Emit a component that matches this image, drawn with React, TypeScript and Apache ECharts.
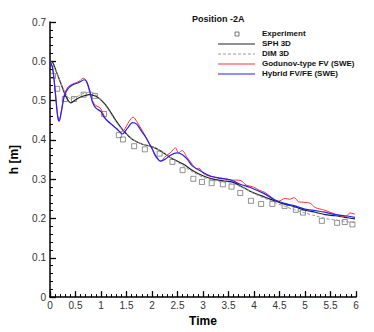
import React, { useEffect, useRef } from "react";
import * as echarts from "echarts";

const xTicks = [0, 0.5, 1, 1.5, 2, 2.5, 3, 3.5, 4, 4.5, 5, 5.5, 6];
const yTicks = [0, 0.1, 0.2, 0.3, 0.4, 0.5, 0.6, 0.7];

const experiment: [number, number][] = [
  [0.06, 0.563], [0.14, 0.53], [0.29, 0.504], [0.47, 0.504], [0.66, 0.515], [0.88, 0.512],
  [1.06, 0.466], [1.35, 0.412], [1.43, 0.401], [1.65, 0.384], [1.86, 0.376], [2.15, 0.365],
  [2.4, 0.344], [2.6, 0.323], [2.81, 0.301], [2.98, 0.293], [3.17, 0.29], [3.39, 0.287],
  [3.56, 0.281], [3.73, 0.265], [3.94, 0.245], [4.14, 0.237], [4.36, 0.237], [4.6, 0.232],
  [4.82, 0.222], [4.96, 0.215], [5.33, 0.194], [5.63, 0.189], [5.78, 0.191], [5.93, 0.185],
];

const sph3d: [number, number][] = [
  [0, 0.6], [0.05, 0.598], [0.12, 0.575], [0.21, 0.545], [0.31, 0.511], [0.41, 0.494],
  [0.51, 0.503], [0.64, 0.511], [0.77, 0.515], [0.9, 0.511], [1.03, 0.498], [1.13, 0.482],
  [1.3, 0.448], [1.45, 0.422], [1.62, 0.401], [1.81, 0.389], [1.97, 0.384], [2.17, 0.372],
  [2.36, 0.355], [2.62, 0.338], [2.81, 0.321], [3.01, 0.308], [3.2, 0.3], [3.4, 0.296],
  [3.59, 0.292], [3.79, 0.279], [3.98, 0.266], [4.12, 0.259], [4.22, 0.254], [4.41, 0.245],
  [4.61, 0.236], [4.8, 0.23], [5.0, 0.221], [5.2, 0.216], [5.39, 0.21], [5.59, 0.207],
  [5.78, 0.203], [5.98, 0.199],
];

const dim3d: [number, number][] = [
  [0, 0.6], [0.1, 0.58], [0.2, 0.55], [0.3, 0.52], [0.4, 0.505], [0.5, 0.508], [0.6, 0.515],
  [0.7, 0.52], [0.8, 0.522], [0.9, 0.515], [1.0, 0.5], [1.1, 0.485], [1.2, 0.465],
  [1.3, 0.445], [1.4, 0.428], [1.5, 0.415], [1.6, 0.403], [1.8, 0.39], [2.0, 0.383],
  [2.2, 0.37], [2.4, 0.352], [2.6, 0.335], [2.8, 0.318], [3.0, 0.305], [3.2, 0.297],
  [3.4, 0.293], [3.6, 0.288], [3.8, 0.277], [4.0, 0.263], [4.2, 0.252], [4.4, 0.241],
  [4.6, 0.231], [4.8, 0.222], [5.0, 0.214], [5.2, 0.207], [5.4, 0.2], [5.6, 0.196],
  [5.8, 0.192], [6.0, 0.189],
];

const godunov: [number, number][] = [
  [0, 0.6], [0.05, 0.585], [0.1, 0.53], [0.15, 0.462], [0.18, 0.45], [0.22, 0.472],
  [0.28, 0.515], [0.35, 0.534], [0.44, 0.542], [0.57, 0.549], [0.65, 0.557], [0.7, 0.553],
  [0.76, 0.53], [0.83, 0.5], [0.9, 0.487], [0.98, 0.482], [1.03, 0.47], [1.1, 0.452],
  [1.18, 0.442], [1.28, 0.432], [1.38, 0.42], [1.45, 0.425], [1.55, 0.447], [1.63, 0.458],
  [1.7, 0.447], [1.78, 0.43], [1.87, 0.41], [1.95, 0.39], [2.0, 0.378], [2.07, 0.357],
  [2.17, 0.346], [2.27, 0.359], [2.36, 0.367], [2.46, 0.38], [2.52, 0.367], [2.59, 0.373],
  [2.69, 0.355], [2.79, 0.338], [2.87, 0.327], [2.92, 0.328], [3.0, 0.315], [3.1, 0.309],
  [3.25, 0.305], [3.4, 0.302], [3.55, 0.298], [3.73, 0.297], [3.85, 0.285], [3.99, 0.28],
  [4.1, 0.272], [4.22, 0.266], [4.35, 0.253], [4.48, 0.244], [4.61, 0.251], [4.7, 0.249],
  [4.79, 0.253], [4.87, 0.243], [5.0, 0.241], [5.1, 0.239], [5.2, 0.228], [5.39, 0.221],
  [5.55, 0.213], [5.72, 0.206], [5.8, 0.205], [5.88, 0.214], [5.98, 0.211],
];

const hybrid: [number, number][] = [
  [0, 0.6], [0.05, 0.583], [0.1, 0.525], [0.15, 0.46], [0.18, 0.448], [0.22, 0.47],
  [0.28, 0.511], [0.35, 0.53], [0.44, 0.54], [0.57, 0.546], [0.67, 0.553], [0.72, 0.548],
  [0.78, 0.525], [0.83, 0.497], [0.9, 0.481], [1.0, 0.472], [1.06, 0.458], [1.13, 0.448],
  [1.22, 0.438], [1.32, 0.427], [1.42, 0.415], [1.52, 0.43], [1.62, 0.444], [1.7, 0.44],
  [1.78, 0.425], [1.87, 0.408], [1.94, 0.392], [2.0, 0.378], [2.07, 0.36], [2.17, 0.346],
  [2.27, 0.352], [2.36, 0.361], [2.49, 0.367], [2.59, 0.363], [2.69, 0.351], [2.79, 0.334],
  [2.95, 0.321], [3.14, 0.308], [3.34, 0.302], [3.54, 0.298], [3.73, 0.287], [3.93, 0.279],
  [4.12, 0.268], [4.22, 0.262], [4.41, 0.247], [4.61, 0.238], [4.8, 0.232], [5.0, 0.224],
  [5.2, 0.22], [5.39, 0.216], [5.59, 0.21], [5.78, 0.207], [5.98, 0.203],
];

const legendNames = ["Experiment", "SPH 3D", "DIM 3D", "Godunov-type FV (SWE)", "Hybrid FV/FE (SWE)"];

export default function App() {
  const ref = useRef<HTMLDivElement>(null);
  useEffect(() => {
    if (!ref.current) return;
    const chart = echarts.init(ref.current, null, { renderer: "svg" });
    const font = "Liberation Sans, Arial, sans-serif";
    const lx0 = 218, lx1 = 255, tx = 262, ly0 = 34, ldy = 10;
    const legendGraphics: any[] = [];
    legendNames.forEach((n, i) => {
      const y = ly0 + i * ldy;
      legendGraphics.push({
        type: "text", left: tx, top: y - 5,
        style: { text: n, font: `bold 8px ${font}`, fill: "#111" },
      });
    });
    legendGraphics.push({ type: "rect", shape: { x: 235, y: ly0 - 2, width: 4, height: 4 }, style: { fill: "none", stroke: "#555", lineWidth: 0.8 } });
    legendGraphics.push({ type: "line", shape: { x1: lx0, y1: ly0 + ldy, x2: lx1, y2: ly0 + ldy }, style: { stroke: "#222", lineWidth: 1.2 } });
    legendGraphics.push({ type: "line", shape: { x1: lx0, y1: ly0 + 2 * ldy, x2: lx1, y2: ly0 + 2 * ldy }, style: { stroke: "#999", lineWidth: 1, lineDash: [3, 2] } });
    legendGraphics.push({ type: "line", shape: { x1: lx0, y1: ly0 + 3 * ldy, x2: lx1, y2: ly0 + 3 * ldy }, style: { stroke: "#ff3030", lineWidth: 1 } });
    legendGraphics.push({ type: "line", shape: { x1: lx0, y1: ly0 + 4 * ldy, x2: lx1, y2: ly0 + 4 * ldy }, style: { stroke: "#2020ff", lineWidth: 1.2 } });

    chart.setOption({
      animation: false,
      backgroundColor: "#fff",
      title: {
        text: "Position -2A", left: 187, top: 9,
        textStyle: { fontFamily: font, fontSize: 9, fontWeight: "bold", color: "#111" },
      },
      graphic: legendGraphics,
      grid: { left: 49, right: 18, top: 22, bottom: 33.5 },
      xAxis: {
        type: "value", min: 0, max: 6, interval: 0.5,
        name: "Time", nameLocation: "middle", nameGap: 16,
        nameTextStyle: { fontFamily: font, fontSize: 12, fontWeight: "bold", color: "#000" },
        axisLine: { lineStyle: { color: "#000", width: 1.5 } },
        axisTick: { inside: true, length: 6, lineStyle: { color: "#000", width: 1.3 } },
        minorTick: { show: true, splitNumber: 5, length: 3, lineStyle: { color: "#000", width: 1 } },
        splitLine: { show: false },
        axisLabel: { fontFamily: font, fontSize: 10, color: "#333", margin: 3,
          formatter: (v: number) => (xTicks.includes(v) ? String(v) : "") },
      },
      yAxis: {
        type: "value", min: 0, max: 0.7, interval: 0.1,
        name: "h [m]", nameLocation: "middle", nameGap: 30,
        nameTextStyle: { fontFamily: font, fontSize: 12, fontWeight: "bold", color: "#000" },
        axisLine: { show: true, lineStyle: { color: "#000", width: 1.5 } },
        axisTick: { show: true, inside: true, length: 6, lineStyle: { color: "#000", width: 1.3 } },
        minorTick: { show: true, splitNumber: 5, length: 3, lineStyle: { color: "#000", width: 1 } },
        splitLine: { show: false },
        axisLabel: { fontFamily: font, fontSize: 10, color: "#333", margin: 4,
          formatter: (v: number) => { const r = Math.round(v * 10) / 10; return yTicks.includes(r) ? String(r) : ""; } },
      },
      series: [
        { name: "Experiment", type: "scatter", data: experiment, symbol: "rect", symbolSize: 5,
          itemStyle: { color: "transparent", borderColor: "#555", borderWidth: 0.8 }, z: 2 },
        { name: "SPH 3D", type: "line", data: sph3d, smooth: 0.3, showSymbol: false,
          lineStyle: { color: "#222", width: 1.2 }, z: 3 },
        { name: "DIM 3D", type: "line", data: dim3d, smooth: 0.3, showSymbol: false,
          lineStyle: { color: "#999", width: 1, type: [3, 2] }, z: 3 },
        { name: "Godunov-type FV (SWE)", type: "line", data: godunov, smooth: 0.3, showSymbol: false,
          lineStyle: { color: "#ff3030", width: 1 }, z: 4 },
        { name: "Hybrid FV/FE (SWE)", type: "line", data: hybrid, smooth: 0.3, showSymbol: false,
          lineStyle: { color: "#2020ff", width: 1.2 }, z: 5 },
      ],
    });
    return () => chart.dispose();
  }, []);
  return <div ref={ref} style={{ position: "fixed", left: 0, top: 0, width: 374, height: 332 }} />;
}
